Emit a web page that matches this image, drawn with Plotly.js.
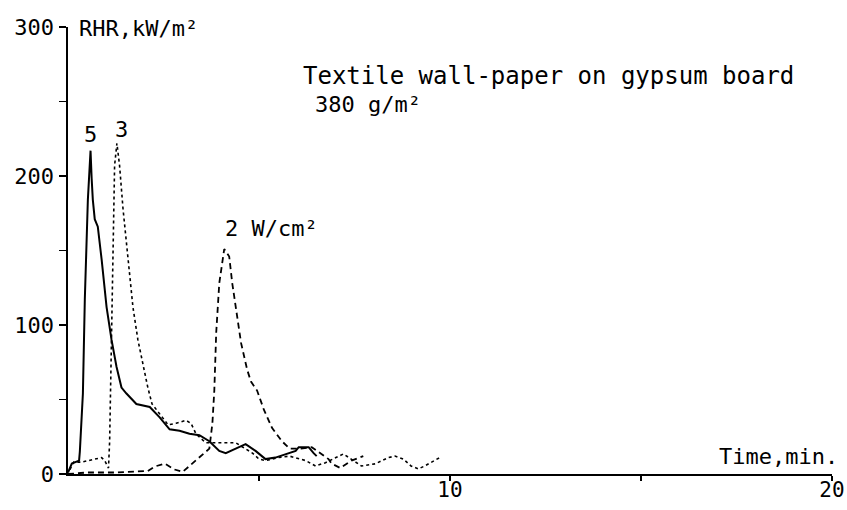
<!DOCTYPE html>
<html>
<head>
<meta charset="utf-8">
<script src="https://cdn.plot.ly/plotly-3.0.1.min.js"></script>
<style>html,body{margin:0;padding:0;background:#fff;}#chart{width:847px;height:510px;}</style>
</head>
<body>
<div id="chart"></div>
<script>
// 5 W/cm2 (solid)
var t5 = [0, 0.10, 0.29, 0.31, 0.39, 0.44, 0.52, 0.59, 0.62, 0.65, 0.70, 0.78, 0.88, 1.01, 1.14, 1.27, 1.40, 1.53, 1.79, 2.14, 2.40, 2.66, 2.92, 3.18, 3.44, 3.70, 3.96, 4.13, 4.39, 4.65, 4.91, 5.17, 5.43, 5.70, 5.96, 6.04, 6.30, 6.43, 6.51];
var q5 = [1, 7, 9, 15, 54, 117, 184, 217, 198, 184, 171, 166, 144, 112, 90, 72, 58, 54, 47, 45, 38, 30, 29, 27, 26, 22, 15.5, 14, 17, 20, 15.5, 10, 11, 13.5, 15.5, 18, 18, 14, 12];
// 3 W/cm2 (dotted)
var t3 = [0.05, 0.15, 0.36, 0.70, 0.88, 0.96, 1.06, 1.09, 1.14, 1.17, 1.22, 1.28, 1.35, 1.44, 1.57, 1.70, 1.83, 1.96, 2.09, 2.20, 2.40, 2.62, 2.83, 3.09, 3.22, 3.35, 3.60, 4.04, 4.39, 4.83, 5.00, 5.18, 5.50, 5.80, 6.22, 6.48, 6.74, 7.21, 7.68, 8.04, 8.39, 8.56, 8.78, 8.98, 9.17, 9.34, 9.51, 9.73];
var q3 = [3, 8, 8, 10, 11, 9, 4, 22, 95, 162, 207, 222, 207, 178, 144, 112, 90, 74, 58, 47, 40, 33, 34, 36, 34, 27, 21, 21, 21, 14, 10, 9, 11, 12, 9, 5.4, 7.6, 13.5, 5.4, 6.8, 11, 12, 10, 5.4, 3.4, 5.4, 7.6, 11];
// 2 W/cm2 (dashed)
var t2 = [0, 0.5, 1.0, 1.22, 2.09, 2.27, 2.53, 2.79, 3.00, 3.26, 3.52, 3.70, 3.78, 3.83, 3.88, 3.96, 4.09, 4.22, 4.30, 4.40, 4.53, 4.69, 4.79, 4.95, 5.13, 5.34, 5.60, 5.80, 6.10, 6.38, 6.60, 6.82, 6.90, 7.13, 7.42, 7.73];
var q2 = [0, 1, 1, 1, 2, 5, 7, 3, 1.4, 7.4, 13.5, 17, 34, 56, 95, 128, 151, 146, 128, 110, 88, 70, 62, 56, 43, 31, 22, 17, 17, 18, 14, 10, 7, 4, 9, 12];

var xTickVals = [5, 10, 15, 20];
var xTickText = ['', '10', '', '20'];
var yTickVals = [0, 50, 100, 150, 200, 250, 300];
var yTickText = ['0', '', '100', '', '200', '', '300'];

var FONT = 'DejaVu Sans Mono';

var traces = [
  {x: t5, y: q5, mode: 'lines', line: {color: '#000', width: 2}, name: '5 W/cm²'},
  {x: t3, y: q3, mode: 'lines', line: {color: '#000', width: 1.6, dash: 'dot'}, name: '3 W/cm²'},
  {x: t2, y: q2, mode: 'lines', line: {color: '#000', width: 1.8, dash: '6px,4px'}, name: '2 W/cm²'}
];

var layout = {
  width: 847, height: 510,
  margin: {l: 68, r: 15, t: 27, b: 36},
  paper_bgcolor: '#fff', plot_bgcolor: '#fff',
  showlegend: false,
  font: {family: FONT, size: 22, color: '#000'},
  xaxis: {
    range: [0, 20], showgrid: false, zeroline: false,
    showline: true, linecolor: '#000', linewidth: 2,
    tickmode: 'array', tickvals: xTickVals, ticktext: xTickText,
    ticks: 'outside', ticklen: 5, tickwidth: 1.5, tickcolor: '#000',
    ticklabelstandoff: -9,
    tickfont: {family: FONT, size: 21, color: '#000'}
  },
  yaxis: {
    range: [0, 300], showgrid: false, zeroline: false,
    showline: true, linecolor: '#000', linewidth: 2.5,
    tickmode: 'array', tickvals: yTickVals, ticktext: yTickText,
    ticks: 'outside', ticklen: 7, tickwidth: 1.5, tickcolor: '#000',
    tickfont: {family: FONT, size: 22, color: '#000'}
  },
  annotations: [
    {x: 0.60, y: 228, xref: 'x', yref: 'y', text: '5', showarrow: false, font: {family: FONT, size: 22}},
    {x: 1.41, y: 231, xref: 'x', yref: 'y', text: '3', showarrow: false, font: {family: FONT, size: 22}},
    {x: 4.06, y: 165, xref: 'x', yref: 'y', text: '2 W/cm²', xanchor: 'left', showarrow: false, font: {family: FONT, size: 22}},
    {x: 6.10, y: 267, xref: 'x', yref: 'y', text: 'Textile wall-paper on gypsum board', xanchor: 'left', showarrow: false, font: {family: FONT, size: 24}},
    {x: 6.41, y: 248, xref: 'x', yref: 'y', text: '380 g/m²', xanchor: 'left', showarrow: false, font: {family: FONT, size: 22}},
    {x: 0.24, y: 299, xref: 'x', yref: 'y', text: 'RHR,kW/m²', xanchor: 'left', showarrow: false, font: {family: FONT, size: 22}},
    {x: 1.01, y: 0.04, xref: 'paper', yref: 'paper', text: 'Time,min.', xanchor: 'right', yanchor: 'middle', showarrow: false, font: {family: FONT, size: 22}}
  ]
};

Plotly.newPlot('chart', traces, layout, {staticPlot: true, displayModeBar: false});
</script>
</body>
</html>
